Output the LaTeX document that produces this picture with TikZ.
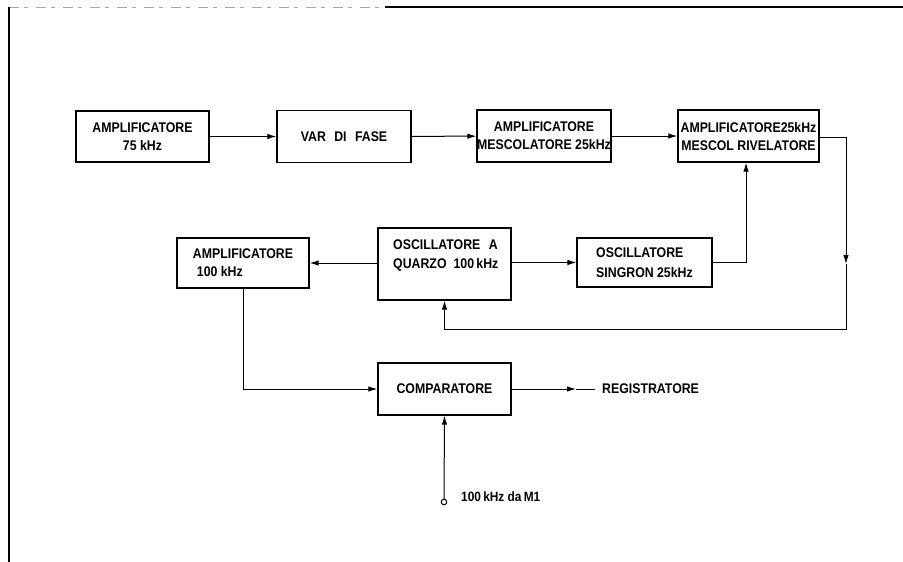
\documentclass[tikz,border=0pt]{standalone}
\usepackage{fontspec}
\setmainfont{Liberation Sans}[FakeStretch=0.88]
\usetikzlibrary{arrows.meta}
\begin{document}
\begin{tikzpicture}[x=1pt,y=-1pt,
  blk/.style={draw,line width=1.3pt,inner sep=0pt,align=center,font=\bfseries\fontsize{14}{18}\selectfont},
  lbl/.style={inner sep=0pt,font=\bfseries\fontsize{14}{18}\selectfont},
  wire/.style={line width=1pt},
  arr/.style={wire,-{Latex[length=9pt,width=5.5pt]}},
  frame/.style={line width=1.1pt},
]
\useasboundingbox (0,0) rectangle (903,562);
% frame
\coordinate (f1) at (9,7);
\coordinate (f2) at (385,7);
\coordinate (f3) at (903,7);
\coordinate (f4) at (9,562);
\draw[frame,gray!70,line width=0.9pt,dash pattern=on 10pt off 5pt on 4pt off 8pt] (f1) -- (f2);
\draw[frame] (f2) -- (f3);
\draw[frame] (f1) -- (f4);

% boxes
\node[blk,minimum width=133pt,minimum height=51pt] (a75) at (142.5,136.5) {AMPLIFICATORE\\75 kHz};
\node[blk,minimum width=134pt,minimum height=52pt] (fase) at (344,136.5) {VAR\hspace{0.6em}DI\hspace{0.6em}FASE};
\node[blk,minimum width=134pt,minimum height=52pt] (mesc) at (544,136) {AMPLIFICATORE\\MESCOLATORE 25kHz};
\node[blk,minimum width=141pt,minimum height=52pt] (riv) at (748.5,136) {AMPLIFICATORE25kHz\\MESCOL RIVELATORE};
\node[blk,minimum width=132pt,minimum height=50pt,align=left] (amp) at (243,263) {AMPLIFICATORE\\\hspace{4pt}100 kHz};
\node[draw,line width=1.3pt,minimum width=133pt,minimum height=72pt,inner sep=0pt] (osc) at (444.5,264) {};
\node[lbl,align=left,anchor=north west] (osct) at (393,240) {OSCILLATORE\hspace{0.6em}A\\[1pt]QUARZO\hspace{0.5em}100\,kHz};
\node[blk,minimum width=135pt,minimum height=49pt,align=left] (sing) at (644.5,262.5) {OSCILLATORE\\[2pt]SINGRON 25kHz};
\node[blk,minimum width=133pt,minimum height=52pt] (comp) at (444.5,389) {COMPARATORE};

% labels
\node[lbl,anchor=west] (reg) at (602,389) {REGISTRATORE};
\node[draw,circle,line width=1pt,minimum size=5.5pt,inner sep=0pt] (inp) at (444,502) {};
\node[lbl,anchor=west,font=\bfseries\fontsize{13.5}{16}\selectfont] (inpt) at (461,497) {100\,kHz da\,M1};

% connectors
\draw[arr] (a75) -- (fase);
\draw[arr] (fase) -- (mesc);
\draw[arr] (mesc) -- (riv);

\coordinate (r1) at (846,137);
\coordinate (rm) at (846,264);
\coordinate (r2) at (846,329);
\coordinate (r3) at (444.5,329);
\draw[arr] (riv.east |- r1) -- (r1) -- (rm);
\draw[arr] (rm) -- (r2) -- (r3) -- (osc.south);

\draw[arr] (osc.west |- amp.east) -- (amp.east);
\draw[arr] (osc.east |- sing.west) -- (sing.west);
\draw[arr] (sing.east) -| ([xshift=-2.5pt]riv.south);

\draw[arr] (amp.south) |- (comp.west);
\coordinate (cm) at (576,389);
\coordinate (ce) at (595,389);
\draw[arr] (comp.east) -- (cm);
\draw[wire] (cm) -- (ce);

\draw[arr] (inp.north) -- (comp.south);
\end{tikzpicture}
\end{document}
